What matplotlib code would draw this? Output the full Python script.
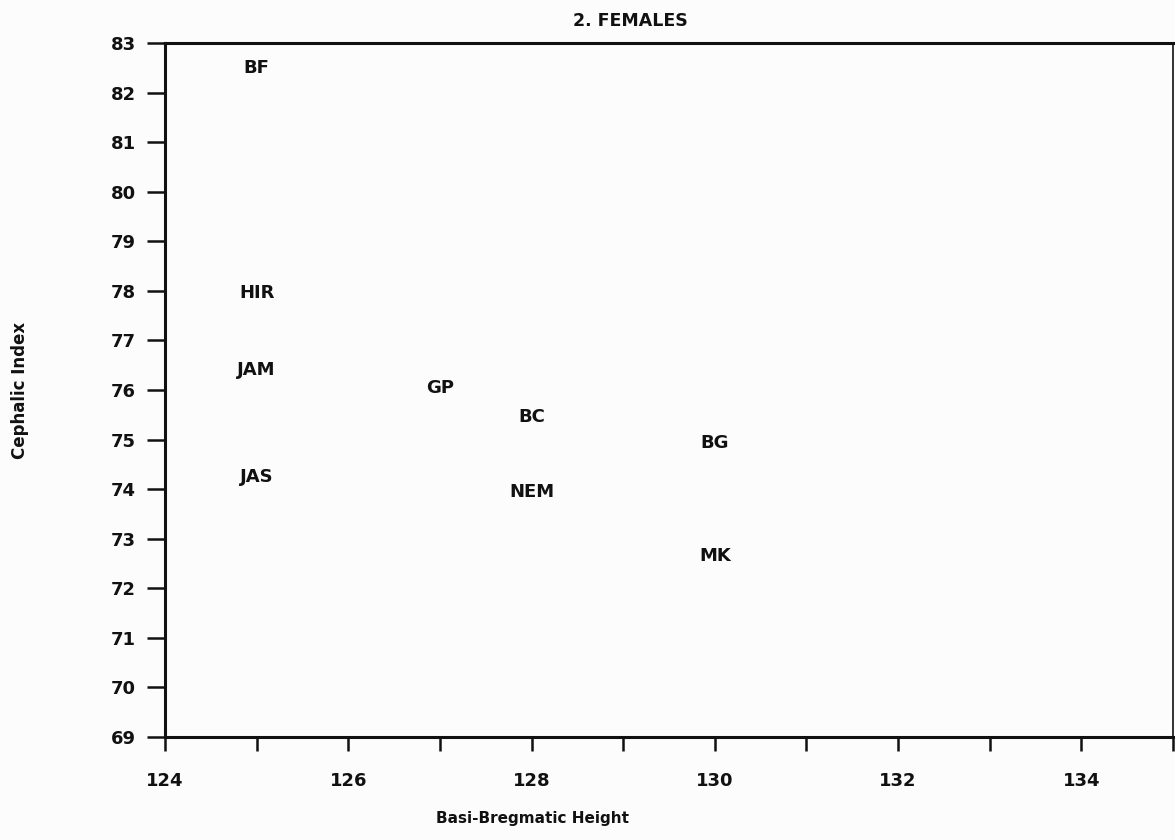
import matplotlib
matplotlib.use("Agg")
import matplotlib.pyplot as plt

labels = ["BF", "HIR", "JAM", "JAS", "GP", "BC", "NEM", "BG", "MK"]
basi_bregmatic = [125.0, 125.0, 125.0, 125.0, 127.0, 128.0, 128.0, 130.0, 130.0]
cephalic_index = [82.5, 77.95, 76.4, 74.25, 76.05, 75.45, 73.95, 74.93, 72.65]

xticks_major = [124, 126, 128, 130, 132, 134]
xticks_minor = [125, 127, 129, 131, 133, 135]
yticks = list(range(69, 84))

plt.rcParams['font.family'] = ['DejaVu Sans']
fig = plt.figure(figsize=(11.75, 8.4), dpi=100)
fig.patch.set_facecolor('#fcfcfc')
ax = fig.add_axes([165/1175, 1 - 737/840, (1173 - 165)/1175, (737 - 43)/840])
ax.set_facecolor('#fcfcfc')

for x, y, t in zip(basi_bregmatic, cephalic_index, labels):
    ax.text(x, y, t, ha='center', va='center', fontsize=13, fontweight='semibold', color='#111111')

ax.set_xlim(124, 135)
ax.set_ylim(69, 83)
ax.set_xticks(xticks_major)
ax.set_xticks(xticks_minor, minor=True)
ax.set_yticks(yticks)
ax.tick_params(axis='x', which='both', direction='out', length=10, width=1.8, pad=15,
               labelsize=13, colors='#111111')
ax.tick_params(axis='y', direction='out', length=13, width=1.8, pad=8, labelsize=13, colors='#111111')
for lbl in ax.get_xticklabels() + ax.get_yticklabels():
    lbl.set_fontweight('semibold')

for side in ['left', 'bottom', 'top']:
    ax.spines[side].set_linewidth(2.2)
    ax.spines[side].set_color('#111111')
ax.spines['right'].set_linewidth(1.2)
ax.spines['right'].set_color('#111111')

fig.text(630/1175, 1 - 21/840, "2. FEMALES", ha='center', va='center', fontsize=12.5,
         fontweight='semibold', color='#111111')
fig.text(533/1175, 1 - 818/840, "Basi-Bregmatic Height", ha='center', va='center', fontsize=11,
         fontweight='semibold', color='#111111')
fig.text(20/1175, 1 - 390/840, "Cephalic Index", ha='center', va='center', rotation=90,
         fontsize=12, fontweight='semibold', color='#111111')

fig.savefig("out.png", dpi=100, facecolor=fig.get_facecolor())
